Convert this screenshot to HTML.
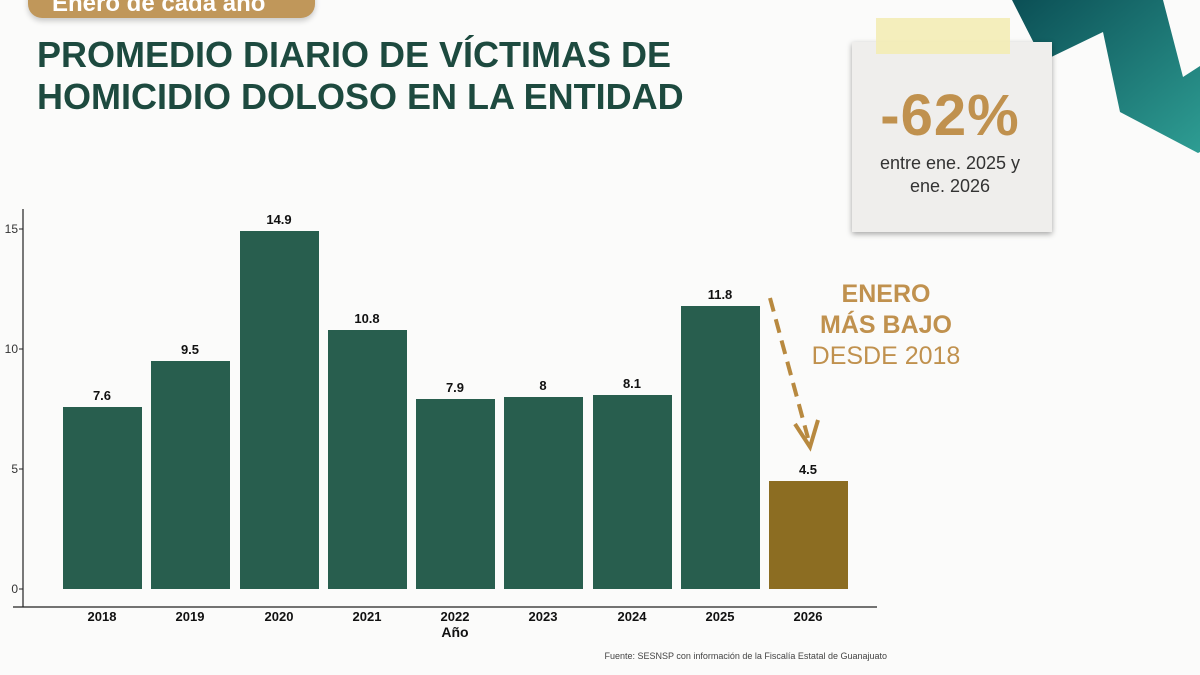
<!DOCTYPE html>
<html><head><meta charset="utf-8"><style>
body{margin:0;width:1200px;height:675px;overflow:hidden;background:#fbfbfa;font-family:"Liberation Sans",sans-serif;position:relative}
.abs{position:absolute}
h1{position:absolute;left:37px;top:34px;margin:0;font-size:36px;line-height:42px;color:#1d4a3f;font-weight:900;letter-spacing:0px}
</style></head><body>
<div class="abs" style="left:28px;top:-30px;width:287px;height:48px;background:#c0975a;border-radius:14px;box-shadow:0 3px 6px rgba(0,0,0,.2)"></div>
<div class="abs" style="left:52px;top:-10px;color:#fff;font-size:24px;font-weight:bold">Enero de cada año</div>
<h1>PROMEDIO DIARIO DE VÍCTIMAS DE<br>HOMICIDIO DOLOSO EN LA ENTIDAD</h1>
<svg class="abs" style="left:0;top:0" width="1200" height="675">
<defs><linearGradient id="g" x1="0" y1="0" x2="1" y2="1"><stop offset="0" stop-color="#0b4f55"/><stop offset="1" stop-color="#2e9d93"/></linearGradient></defs>
<polygon points="1012,0 1043,61 1103,32 1120,112 1198,153 1200,152 1200,66 1183,77 1163,0" fill="url(#g)"/>
<rect x="852" y="42" width="200" height="190" fill="#efeeec" style="filter:drop-shadow(0 2px 3px rgba(0,0,0,.35))"/>
<rect x="876" y="18" width="134" height="36" fill="#f3ecb5" opacity="0.9"/>
<text x="950" y="135" text-anchor="middle" font-size="58" font-weight="900" fill="#c0914e" letter-spacing="1">-62%</text>
<text x="950" y="169" text-anchor="middle" font-size="18" fill="#333">entre ene. 2025 y</text>
<text x="950" y="192" text-anchor="middle" font-size="18" fill="#333">ene. 2026</text>
<line x1="23" y1="209" x2="23" y2="607" stroke="#222" stroke-width="1.2"/>
<line x1="13" y1="607" x2="877" y2="607" stroke="#222" stroke-width="1.2"/>
<g font-size="12" fill="#333" text-anchor="end">
<text x="18" y="233">15</text><text x="18" y="353">10</text><text x="18" y="473">5</text><text x="18" y="593">0</text></g>
<g stroke="#222"><line x1="19" y1="229" x2="23" y2="229"/><line x1="19" y1="349" x2="23" y2="349"/><line x1="19" y1="469" x2="23" y2="469"/><line x1="19" y1="589" x2="23" y2="589"/></g>
<g fill="#285e4e">
<rect x="63" y="407" width="79" height="182"/>
<rect x="151" y="361" width="79" height="228"/>
<rect x="240" y="231" width="79" height="358"/>
<rect x="328" y="330" width="79" height="259"/>
<rect x="416" y="399" width="79" height="190"/>
<rect x="504" y="397" width="79" height="192"/>
<rect x="593" y="395" width="79" height="194"/>
<rect x="681" y="306" width="79" height="283"/>
</g>
<rect x="769" y="481" width="79" height="108" fill="#8c6d22"/>
<g font-size="13" font-weight="bold" fill="#111" text-anchor="middle">
<text x="102" y="400">7.6</text><text x="190" y="354">9.5</text><text x="279" y="224">14.9</text><text x="367" y="323">10.8</text><text x="455" y="392">7.9</text><text x="543" y="390">8</text><text x="632" y="388">8.1</text><text x="720" y="299">11.8</text><text x="808" y="474">4.5</text>
<text x="102" y="621">2018</text><text x="190" y="621">2019</text><text x="279" y="621">2020</text><text x="367" y="621">2021</text><text x="455" y="621">2022</text><text x="543" y="621">2023</text><text x="632" y="621">2024</text><text x="720" y="621">2025</text><text x="808" y="621">2026</text>
<text x="455" y="637" font-size="14">Año</text></g>
<text x="887" y="659" text-anchor="end" font-size="9" fill="#444">Fuente: SESNSP con información de la Fiscalía Estatal de Guanajuato</text>
<line x1="770" y1="298" x2="808" y2="438" stroke="#b8893f" stroke-width="4" stroke-dasharray="14,8"/>
<polyline points="795,424 810,447 818,420" fill="none" stroke="#b8893f" stroke-width="4"/>
<g text-anchor="middle" fill="#c0914e" font-size="25">
<text x="886" y="302" font-weight="900">ENERO</text>
<text x="886" y="333" font-weight="900">MÁS BAJO</text>
<text x="886" y="364">DESDE 2018</text></g>
</svg>
</body></html>
